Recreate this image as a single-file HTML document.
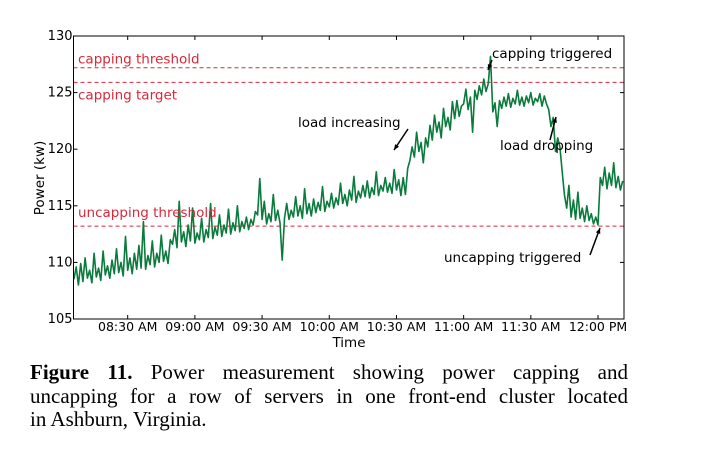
<!DOCTYPE html>
<html><head><meta charset="utf-8"><style>
body{margin:0;background:#fff;width:708px;height:456px;overflow:hidden;position:relative}
svg{position:absolute;left:0;top:0}
#cap{position:absolute;left:30px;top:361px;width:598px;font-family:"Liberation Serif",serif;font-size:21px;line-height:23.5px;color:#000}
#cap div{text-align:justify;text-align-last:justify;white-space:nowrap}
#cap div.last{text-align-last:left}
</style></head><body>
<svg id="chart" width="708" height="360" font-family="DejaVu Sans, Liberation Sans, sans-serif"></svg>
<div id="cap"><div><b>Figure 11.</b> Power measurement showing power capping and</div><div>uncapping for a row of servers in one front-end cluster located</div><div class="last">in Ashburn, Virginia.</div></div>
<script>
// minutes since 08:06, one value per minute
const startMin = 8*60+6;
const powerKw = [
108.5,109.6,108.0,109.9,108.3,110.4,108.6,109.3,108.2,110.8,
108.7,109.5,108.4,111.0,108.9,109.7,108.6,110.2,109.0,111.2,
109.1,110.0,108.8,112.3,109.3,110.4,109.0,110.8,109.4,111.5,
109.5,113.6,109.4,110.6,109.8,111.9,109.6,110.8,110.0,112.4,
110.1,111.0,109.9,112.0,111.6,112.9,111.3,115.4,111.8,112.7,
111.4,113.3,111.9,114.8,111.7,112.6,112.0,113.9,111.8,112.9,
112.2,115.2,112.1,113.1,112.4,114.2,112.3,113.3,112.6,114.7,
112.5,113.5,112.8,115.0,112.7,113.6,113.0,114.0,112.9,113.8,
113.3,114.5,114.2,117.4,113.8,115.4,113.4,114.3,113.6,116.0,
113.7,114.6,113.5,110.2,113.9,115.2,113.8,114.6,114.0,115.8,
114.1,115.0,113.9,116.5,114.3,115.2,114.1,115.6,114.4,115.3,
114.6,116.7,114.5,115.4,114.9,116.1,114.8,115.7,115.1,117.0,
115.2,116.0,115.0,116.4,115.5,117.6,115.3,116.3,115.7,116.8,
115.8,117.2,115.7,116.6,116.0,118.0,115.9,116.8,116.3,117.5,
116.2,117.0,116.1,118.2,116.4,117.3,115.9,117.5,116.0,118.3,
119.0,120.2,119.3,121.5,119.8,120.6,118.8,121.0,120.2,122.1,
120.8,123.0,121.5,122.4,121.0,123.6,122.0,122.8,121.7,124.2,
122.7,124.3,122.9,123.8,124.0,125.3,123.5,124.6,121.5,125.2,
124.4,125.6,124.8,126.2,125.1,125.8,128.2,123.3,124.1,122.0,
124.3,123.6,124.6,123.8,124.9,123.7,124.5,124.0,125.2,123.9,
124.6,123.8,124.7,124.1,125.0,123.9,124.5,124.2,124.9,123.8,
124.7,124.0,123.5,122.0,122.8,119.8,121.0,120.2,118.0,116.0,
114.8,116.8,114.0,115.5,113.8,116.2,113.9,114.8,113.6,115.0,
113.7,114.3,113.4,114.0,113.3,117.5,116.8,118.4,116.5,117.9,
116.8,118.8,116.6,117.6,116.4,117.2];
const yTicks = [105,110,115,120,125,130];
const xTickLabels = ["08:30 AM","09:00 AM","09:30 AM","10:00 AM","10:30 AM","11:00 AM","11:30 AM","12:00 PM"];
const xTickMins = [510,540,570,600,630,660,690,720];
const thresholdNames = ["capping threshold","capping target","uncapping threshold"];
const thresholdValues = [127.2,125.9,113.2];

const L=73.5,R=624,T=36,B=319;
const x0=startMin-0.2, x1=731.6;
const X=m=>L+(m-x0)/(x1-x0)*(R-L);
const Y=v=>B-(v-105)/25*(B-T);
const svg=document.getElementById('chart');
const NS='http://www.w3.org/2000/svg';
function mk(tag,at,txt){const e=document.createElementNS(NS,tag);for(const k in at)e.setAttribute(k,at[k]);if(txt!=null)e.textContent=txt;svg.appendChild(e);return e;}

thresholdValues.forEach((v,i)=>{
  const l=mk('line',{x1:L,x2:R,y1:Y(v),y2:Y(v),stroke:'#d9283a','stroke-width':1,'stroke-dasharray':'4,3'});
  
  
});
let d='';powerKw.forEach((v,i)=>{d+=(i?'L':'M')+X(startMin+i).toFixed(1)+' '+Y(v).toFixed(1);});
const p=mk('path',{d:d,fill:'none',stroke:'#0b7a3d','stroke-width':1.6,'stroke-linejoin':'round'});


const lblY=[Y(thresholdValues[0])-4,Y(thresholdValues[1])+17,Y(thresholdValues[2])-9];
thresholdNames.forEach((n,i)=>{
  const t=mk('text',{x:78,y:lblY[i],fill:'#d9283a','font-size':13.5},n);
  
  
});
const f=mk('rect',{x:L,y:T,width:R-L,height:B-T,fill:'none',stroke:'#000','stroke-width':1});


yTicks.forEach(v=>{
  const y=Y(v);
  mk('line',{x1:L,x2:L+4,y1:y,y2:y,stroke:'#000'});
  mk('line',{x1:R,x2:R-4,y1:y,y2:y,stroke:'#000'});
  const t=mk('text',{x:L-1,y:y+4,'text-anchor':'end','font-size':13},String(v));
  
  
});
xTickMins.forEach((m,i)=>{
  const x=X(m);
  mk('line',{x1:x,x2:x,y1:B,y2:B-4,stroke:'#000'});
  mk('line',{x1:x,x2:x,y1:T,y2:T+4,stroke:'#000'});
  const t=mk('text',{x:x,y:331,'text-anchor':'middle','font-size':12.5},xTickLabels[i]);
  
  
});
const xt=mk('text',{x:349,y:347,'text-anchor':'middle','font-size':13.5},'Time');


const yt=mk('text',{x:0,y:0,'text-anchor':'middle','font-size':13.5,transform:'translate(44,178) rotate(-90)'},'Power (kw)');


const ann=[["load increasing",298,127,408,129,394,150],["capping triggered",492,58,492,60,488,70],["load dropping",500,150,550,140,556,117],["uncapping triggered",444,262,590,255,600,228]];
ann.forEach(a=>{
  const t=mk('text',{x:a[1],y:a[2],'font-size':13.5},a[0]);
  
  
  const [ax,ay,bx,by]=[a[3],a[4],a[5],a[6]];
  mk('line',{x1:ax,y1:ay,x2:bx,y2:by,stroke:'#000','stroke-width':1.5});
  const ang=Math.atan2(by-ay,bx-ax),s=6;
  const p1=[bx-s*Math.cos(ang-0.4),by-s*Math.sin(ang-0.4)],p2=[bx-s*Math.cos(ang+0.4),by-s*Math.sin(ang+0.4)];
  const h=mk('polygon',{points:`${bx},${by} ${p1} ${p2}`,fill:'#000'});
  
  
});
</script>
</body></html>
